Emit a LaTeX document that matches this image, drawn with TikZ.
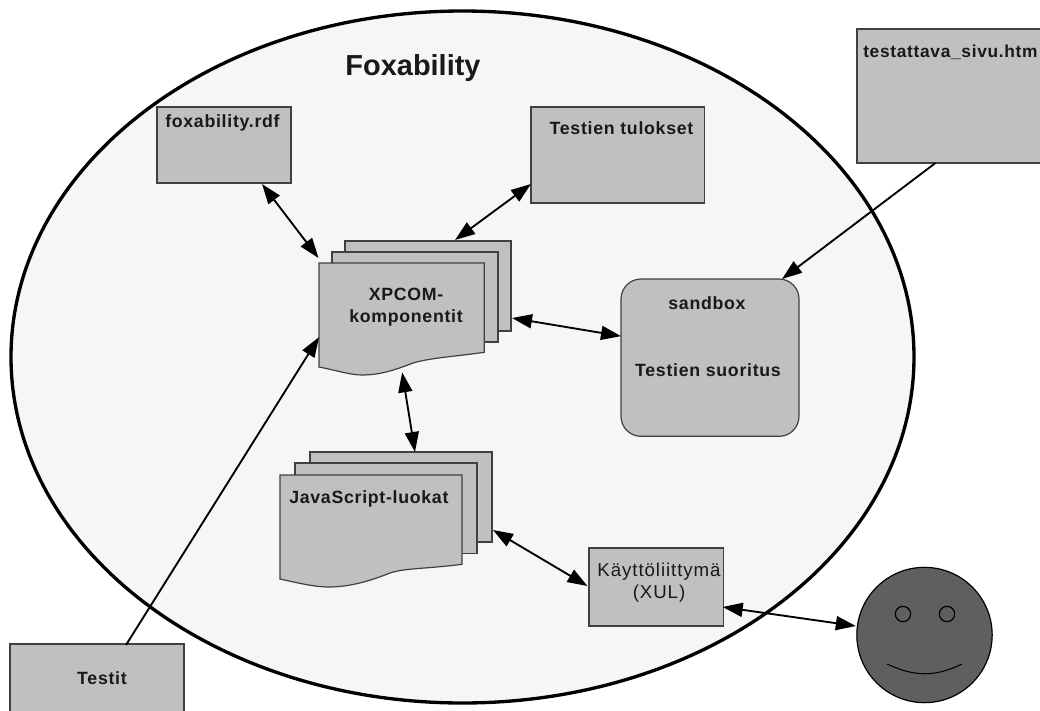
\documentclass[tikz,border=0pt]{standalone}
\usepackage{fontspec}
\setmainfont{Liberation Sans}
\newfontfamily\lblfont[LetterSpace=4]{Liberation Sans}
\newfontfamily\uifont[LetterSpace=5]{Liberation Sans}
\usetikzlibrary{arrows.meta}
\definecolor{boxgray}{HTML}{C0C0C0}
\definecolor{sandgray}{HTML}{B2B2B2}
\definecolor{facegray}{HTML}{5F5F5F}
\definecolor{ellgray}{HTML}{F6F6F6}
\tikzset{
  x=0.75pt,y=-0.75pt,
  shp/.style={draw=black!75,line width=0.9pt,fill=boxgray},
  boxn/.style={shp,inner sep=0pt,outer sep=0pt,anchor=north west,minimum width=#1},
  frame/.style={inner sep=0pt,outer sep=0pt,anchor=north west,minimum width=#1},
  lbl/.style={font=\lblfont\bfseries\fontsize{13.3}{16.5}\selectfont,align=center,text=black!90,inner sep=0pt},
  dbl/.style={line width=1.4pt,{Triangle[length=15pt,width=10.5pt]}-{Triangle[length=15pt,width=10.5pt]}},
  sgl/.style={line width=1.4pt,-{Triangle[length=15pt,width=10.5pt]}},
  eye/.style={draw=black,line width=0.9pt,fill=facegray,circle,minimum size=11.5pt,inner sep=0pt}
}
\begin{document}
\begin{tikzpicture}
\useasboundingbox (0,0) rectangle (1040,711);
\fill[white] (0,0) rectangle (1040,711);
% big ellipse
\draw[line width=2.5pt,fill=ellgray] (462.5,357) ellipse [x radius=451.5,y radius=346];
\node[font=\bfseries\fontsize{21.7}{26}\selectfont,inner sep=0pt,anchor=base,text=black!90] (title) at (413,75) {Foxability};
% boxes
\node[boxn=100.5pt,minimum height=57pt] (rdf) at (157,107) {};
\node[lbl,anchor=west] (rdft) at (165,122.5) {foxability.rdf};
\node[boxn=130pt,minimum height=72pt] (tul) at (531,107) {};
\node[lbl] (tult) at (621.5,128) {Testien tulokset};
\node[boxn=138pt,minimum height=100.5pt] (page) at (857,29) {};
\node[lbl,font=\lblfont\bfseries\fontsize{13}{16}\selectfont,anchor=west] (paget) at (863,52) {testattava\_sivu.htm};
\node[boxn=130.5pt,minimum height=50.5pt] (tst) at (10,644) {};
\node[lbl] (tstt) at (102,678) {Testit};
\node[boxn=101pt,minimum height=58.5pt] (ui) at (589,548) {};
\node[lbl,font=\uifont\fontsize{14}{16.5}\selectfont] (uit) at (659,583) {Käyttöliittymä\\(XUL)};
% sandbox
\node[shp,fill=sandgray,rounded corners=15pt,boxn=133.5pt,minimum height=118pt] (sand) at (621,279) {};
\node[lbl] (s1) at (707,303) {sandbox};
\node[lbl] (s2) at (708,370) {Testien suoritus};
% XPCOM stack
\node[boxn=124.5pt,minimum height=67.5pt] (xpb) at (345,241) {};
\node[boxn=124.5pt,minimum height=67.5pt] (xpm) at (332,252) {};
\node[frame=124pt,minimum height=67pt] (xpf) at (319,263) {};
\path[shp] (xpf.north west) -- (xpf.north east) -- (xpf.south east)
  .. controls (450,357) and (430,358) .. (413,363)
  .. controls (395,370) and (380,375) .. (362,375)
  .. controls (350,375) and (335,370) .. (319,367) -- cycle;
\node[lbl] (xp) at (406,307) {XPCOM-\\komponentit};
% JS stack
\node[boxn=136.5pt,minimum height=67.5pt] (jsb) at (310,452) {};
\node[boxn=136.5pt,minimum height=68pt] (jsm) at (295,463) {};
\node[frame=136.5pt,minimum height=67pt] (jsf) at (280,475) {};
\path[shp] (jsf.north west) -- (jsf.north east) -- (jsf.south east)
  .. controls (425,569) and (405,568) .. (390,573)
  .. controls (370,581) and (350,587) .. (328,587)
  .. controls (315,587) and (298,583) .. (280,579) -- cycle;
\node[lbl,anchor=west] (js) at (289,498.5) {JavaScript-luokat};
% face
\node[shp,draw=black,fill=facegray,circle,minimum size=101.5pt,inner sep=0pt,outer sep=0pt] (face) at (924.5,635) {};
\node[eye] (eyel) at (903,614) {};
\node[eye] (eyer) at (947,614) {};
\draw[line width=0.8pt,draw=black] (887,664) .. controls (915,677) and (935,677) .. (962,664);
% connectors
\draw[dbl] ([shift={(38,1)}]rdf.south) -- ([shift={(-0.5,-5)}]xpf.north west);
\draw[dbl] ([shift={(27,-1)}]xpb.north) -- ([shift={(0,29)}]tul.west);
\draw[dbl] ([shift={(1,32)}]xpb.east) -- ([shift={(0,-21.5)}]sand.west);
\draw[dbl] ([shift={(0.5,20)}]xpf.south) -- ([shift={(14,0)}]jsb.north);
\draw[dbl] ([shift={(1,33)}]jsb.east) -- ([shift={(-1.5,-1)}]ui.west);
\draw[dbl] ([shift={(-1,20)}]ui.east) -- ([shift={(-1,-9)}]face.west);
\draw[sgl] ([shift={(-13.5,0)}]page.south) -- ([shift={(72,0)}]sand.north);
\draw[sgl] ([shift={(29,1)}]tst.north) -- ([shift={(0,29.5)}]xpf.west);
\end{tikzpicture}
\end{document}
